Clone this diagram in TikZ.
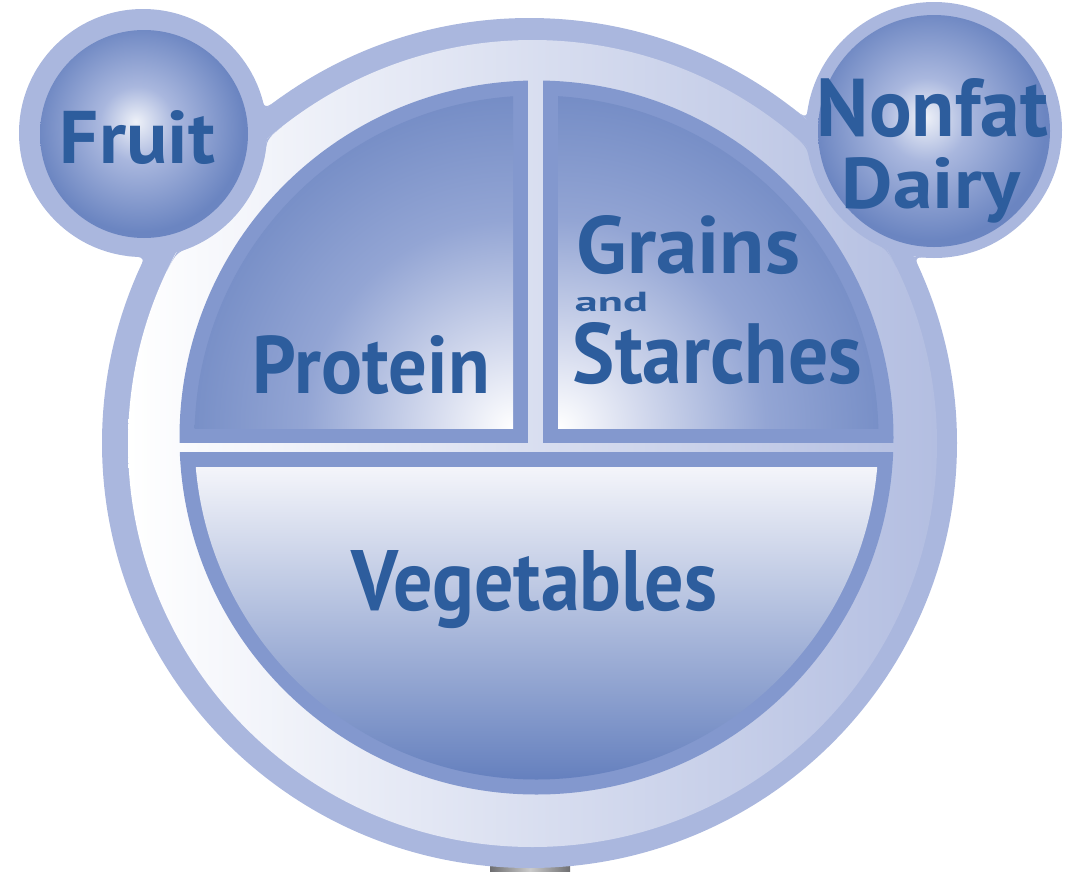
\documentclass[tikz,border=0pt]{standalone}
\usepackage{fontspec}
\setmainfont{PT Sans}
\usepackage{graphicx}
\usetikzlibrary{calc}
\definecolor{band}{HTML}{AAB7DE}
\definecolor{rimmid}{HTML}{DCE0F0}
\definecolor{rimright}{HTML}{B3BEE1}
\definecolor{secborder}{HTML}{8398CE}
\definecolor{secdark}{HTML}{6580BE}
\definecolor{secm}{HTML}{93A5D4}
\definecolor{secl}{HTML}{D5DBEE}
\definecolor{vegtop}{HTML}{F4F5FA}
\definecolor{vegmid}{HTML}{B0BDE0}
\definecolor{ballc}{HTML}{EEF1F8}
\definecolor{ballm}{HTML}{A9B7DE}
\definecolor{balle}{HTML}{6B85C1}
\definecolor{labcol}{HTML}{2D5D9D}
\definecolor{footgray}{HTML}{6E6E70}
\pgfdeclareradialshading{secshade}{\pgfpoint{0bp}{0bp}}{color(0bp)=(white); color(5bp)=(secl); color(13bp)=(secm); color(25bp)=(secdark); color(50bp)=(secdark)}
\pgfdeclareradialshading{ballshade}{\pgfpoint{-2bp}{3bp}}{color(0bp)=(ballc); color(9bp)=(ballm); color(25bp)=(balle); color(50bp)=(balle)}
\begin{document}
\begin{tikzpicture}[x=0.75pt,y=-0.75pt,
  lab/.style={inner sep=0pt, outer sep=0pt, anchor=base, text=labcol, font=\bfseries},
  bandfill/.style={fill=band}]
\useasboundingbox (0,0) rectangle (1065,872);
% foot under the plate
\shade[left color=footgray, right color=footgray, middle color=gray!40] (490,860) rectangle (570,872);
% outer fillets between balls and plate rim
\fill[bandfill] ($(143,133)+(-20:124)$) .. controls (264,110) .. ($(529.5,443)+(-125.5:427.5 and 425)$) -- (264,110) -- cycle;
\fill[bandfill] ($(143,133)+(97:124)$) .. controls (146,257) .. ($(529.5,443)+(-157:427.5 and 425)$) -- (146,257) -- cycle;
\fill[bandfill] ($(934,130)+(194:128)$) .. controls (807,119.5) .. ($(529.5,443)+(-52.2:427.5 and 425)$) -- (807,119.5) -- cycle;
\fill[bandfill] ($(934,130)+(90.5:128)$) .. controls (913.3,256.5) .. ($(529.5,443)+(-23.3:427.5 and 425)$) -- (913.3,256.5) -- cycle;
% plate outer band
\fill[bandfill] (529.5,443) ellipse [x radius=427.5, y radius=425];
% plate rim
\shade[left color=white, middle color=rimmid, right color=rimright] (532.5,443.5) ellipse [x radius=404.5, y radius=403.5];
% rim fillets
\fill[bandfill] ($(143,133)+(12:124)$) .. controls (266.8,139.2) .. ($(532.5,443.5)+(-128.25:404.5 and 403.5)$) -- (266.8,139.2) -- cycle;
\fill[bandfill] ($(143,133)+(65.3:124)$) .. controls (176.6,252.4) .. ($(532.5,443.5)+(-154.65:404.5 and 403.5)$) -- (176.6,252.4) -- cycle;
\fill[bandfill] ($(934,130)+(163.2:128)$) .. controls (807.2,147.3) .. ($(532.5,443.5)+(-50:404.5 and 403.5)$) -- (807.2,147.3) -- cycle;
\fill[bandfill] ($(934,130)+(120.8:128)$) .. controls (886.4,248.9) .. ($(532.5,443.5)+(-26:404.5 and 403.5)$) -- (886.4,248.9) -- cycle;
% side balls
\fill[bandfill] (143,133) circle (124);
\fill[bandfill] (934,130) circle (128);
\shade[shading=ballshade] (144,134) circle (104);
\shade[shading=ballshade] (934,131) circle (116);
% sections
\def\cx{536.5}\def\cy{437.5}
\begin{scope}
  \clip (\cx,\cy) circle (357);
  \fill[secborder] (150,50) rectangle (528,443);
  \fill[secborder] (543,50) rectangle (950,443);
  \fill[secborder] (150,452) rectangle (950,850);
\end{scope}
\begin{scope}
  \clip (\cx,\cy) circle (342);
  \clip (150,50) rectangle (513,428);
  \shade[shading=secshade] (513,428) circle (400);
\end{scope}
\begin{scope}
  \clip (\cx,\cy) circle (342);
  \clip (558,50) rectangle (950,428);
  \shade[shading=secshade] (558,428) circle (400);
\end{scope}
\begin{scope}
  \clip (\cx,\cy) circle (342);
  \clip (150,467) rectangle (950,850);
  \shade[top color=vegtop, middle color=vegmid, bottom color=secdark] (150,467) rectangle (950,780);
\end{scope}
% labels
\node[lab] (fruit) at (137.5,163) {\resizebox{116.25pt}{39.75pt}{Fruit}};
\node[lab] (nonfat) at (932.5,136) {\resizebox{173.25pt}{43.5pt}{Nonfat}};
\node[lab] (dairy) at (931,208) {\resizebox{133.5pt}{38.25pt}{Dairy}};
\node[lab] (protein) at (371.5,393) {\resizebox{177.75pt}{43.5pt}{Protein}};
\node[lab] (grains) at (688.5,273) {\resizebox{167.25pt}{43.5pt}{Grains}};
\node[lab] (and) at (611.5,311) {\resizebox{54.75pt}{14.5pt}{and}};
\node[lab] (starches) at (717.5,383) {\resizebox{216.75pt}{45.75pt}{Starches}};
\node[lab] (veg) at (534.5,610) {\resizebox{273.75pt}{45pt}{Vegetables}};
\end{tikzpicture}
\end{document}
